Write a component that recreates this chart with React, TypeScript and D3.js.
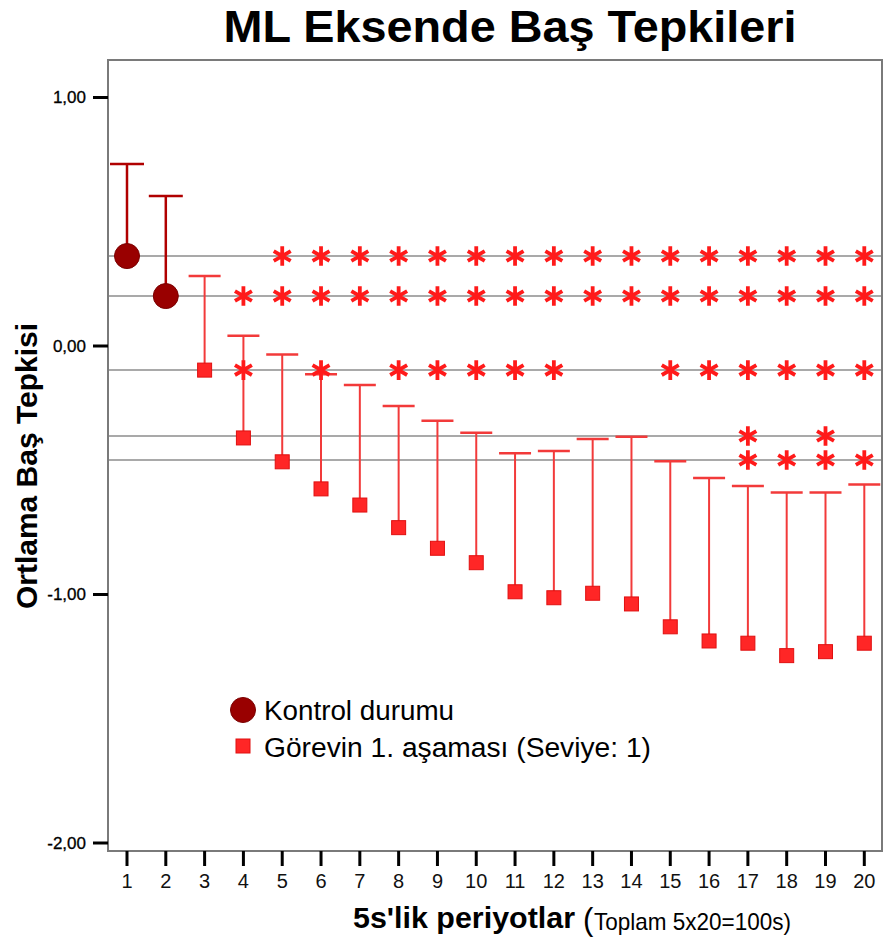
import React from "react";
import * as d3 from "d3";

const periods = [1, 2, 3, 4, 5, 6, 7, 8, 9, 10, 11, 12, 13, 14, 15, 16, 17, 18, 19, 20];
const yTicks = [1, 0, -1, -2];
const yTickLabels = ["1,00", "0,00", "-1,00", "-2,00"];

const controlPeriods = [1, 2];
const controlMean = [0.362, 0.201];
const controlUpper = [0.732, 0.604];

const taskPeriods = [3, 4, 5, 6, 7, 8, 9, 10, 11, 12, 13, 14, 15, 16, 17, 18, 19, 20];
const taskMean = [-0.097, -0.37, -0.466, -0.575, -0.64, -0.731, -0.814, -0.872, -0.989, -1.013, -0.995, -1.038, -1.13, -1.187, -1.196, -1.246, -1.23, -1.196];
const taskUpper = [0.282, 0.041, -0.034, -0.114, -0.157, -0.241, -0.301, -0.349, -0.432, -0.423, -0.374, -0.365, -0.464, -0.531, -0.563, -0.59, -0.59, -0.557];

const refLines = [0.362, 0.201, -0.097, -0.362, -0.459];
const starRows = [
  [5, 6, 7, 8, 9, 10, 11, 12, 13, 14, 15, 16, 17, 18, 19, 20],
  [4, 5, 6, 7, 8, 9, 10, 11, 12, 13, 14, 15, 16, 17, 18, 19, 20],
  [4, 6, 8, 9, 10, 11, 12, 15, 16, 17, 18, 19, 20],
  [17, 19],
  [17, 18, 19, 20],
];

const title = "ML Eksende Baş Tepkileri";
const yTitle = "Ortlama Baş Tepkisi";
const xTitleBold = "5s'lik periyotlar";
const xTitleParen = "(";
const xTitleSmall = "Toplam 5x20=100s)";
const legendLabels = ["Kontrol durumu", "Görevin 1. aşaması (Seviye: 1)"];

const FONT = "'Liberation Sans', Arial, Helvetica, sans-serif";
const DARK = "#990000";
const RED = "#ff2626";

export default function App() {
  const left = 108, right = 882, top = 60, bottom = 851;
  const x = d3.scalePoint<number>().domain(periods).range([127, 864.3]);
  const y = d3.scaleLinear().domain([-2, 1]).range([843, 97.5]);
  const star = d3.symbol().type(d3.symbolAsterisk).size(270)() as string;
  const capW = 32;

  return (
    <svg width={884} height={940} style={{ position: "absolute", left: 0, top: 0, background: "#fff" }} fontFamily={FONT}>
      <rect x={0} y={0} width={884} height={940} fill="#fff" />
      <text x={510} y={42} textAnchor="middle" fontSize={45} fontWeight="bold" fill="#000" textLength={573} lengthAdjust="spacingAndGlyphs">{title}</text>

      {/* reference lines */}
      {refLines.map((v, i) => (
        <line key={"r" + i} x1={left} x2={right} y1={y(v)} y2={y(v)} stroke="#8c8c8c" strokeWidth={1.5} />
      ))}

      {/* frame */}
      <rect x={left} y={top} width={right - left} height={bottom - top} fill="none" stroke="#7a7a7a" strokeWidth={2} />

      {/* y ticks */}
      {yTicks.map((t, i) => (
        <g key={"yt" + i}>
          <line x1={93} x2={left} y1={y(t)} y2={y(t)} stroke="#000" strokeWidth={3} />
          <text x={86} y={y(t)} dy="0.35em" textAnchor="end" fontSize={17} fill="#000" stroke="#000" strokeWidth={0.3}>{yTickLabels[i]}</text>
        </g>
      ))}

      {/* x ticks */}
      {periods.map((p) => (
        <g key={"xt" + p}>
          <line x1={x(p)} x2={x(p)} y1={bottom} y2={866} stroke="#000" strokeWidth={3} />
          <text x={x(p)} y={888} textAnchor="middle" fontSize={20} fill="#111">{p}</text>
        </g>
      ))}

      {/* y title */}
      <text transform="translate(37,466) rotate(-90)" textAnchor="middle" fontSize={30} fontWeight="bold" fill="#000">{yTitle}</text>

      {/* x title */}
      <text x={353} y={928} fontSize={30} fontWeight="bold" fill="#000" textLength={222} lengthAdjust="spacingAndGlyphs">{xTitleBold}</text>
      <text x={583} y={930} fontSize={31} fill="#000">{xTitleParen}</text>
      <text x={594} y={930} fontSize={24} fill="#000" textLength={197} lengthAdjust="spacingAndGlyphs">{xTitleSmall}</text>

      {/* control error bars */}
      {controlPeriods.map((p, i) => (
        <g key={"c" + p}>
          <line x1={x(p)} x2={x(p)} y1={y(controlMean[i])} y2={y(controlUpper[i])} stroke="#b00000" strokeWidth={2.5} />
          <line x1={x(p)! - capW / 2 - 1} x2={x(p)! + capW / 2 + 1} y1={y(controlUpper[i])} y2={y(controlUpper[i])} stroke="#b00000" strokeWidth={2.5} />
          <circle cx={x(p)} cy={y(controlMean[i])} r={12.5} fill={DARK} stroke="#7a0000" strokeWidth={1} />
        </g>
      ))}

      {/* task error bars */}
      {taskPeriods.map((p, i) => (
        <g key={"t" + p}>
          <line x1={x(p)} x2={x(p)} y1={y(taskMean[i])} y2={y(taskUpper[i])} stroke="#f23a3a" strokeWidth={2} />
          <line x1={x(p)! - capW / 2} x2={x(p)! + capW / 2} y1={y(taskUpper[i])} y2={y(taskUpper[i])} stroke="#f23a3a" strokeWidth={2.5} />
          <rect x={x(p)! - 7} y={y(taskMean[i]) - 7} width={14} height={14} fill={RED} stroke="#e01010" strokeWidth={1} />
        </g>
      ))}

      {/* significance asterisks */}
      {starRows.map((row, ri) =>
        row.map((p) => (
          <path key={"s" + ri + "-" + p} d={star} transform={`translate(${x(p)},${y(refLines[ri])})`} fill="none" stroke="#ff1a1a" strokeWidth={3.8} />
        ))
      )}

      {/* legend */}
      <circle cx={243} cy={710} r={12.5} fill={DARK} stroke="#7a0000" strokeWidth={1} />
      <text x={264} y={720} fontSize={27} fill="#000" textLength={190} lengthAdjust="spacingAndGlyphs">{legendLabels[0]}</text>
      <rect x={236} y={739} width={14} height={14} fill={RED} stroke="#e01010" strokeWidth={1} />
      <text x={264} y={757} fontSize={27} fill="#000" textLength={387} lengthAdjust="spacingAndGlyphs">{legendLabels[1]}</text>
    </svg>
  );
}
